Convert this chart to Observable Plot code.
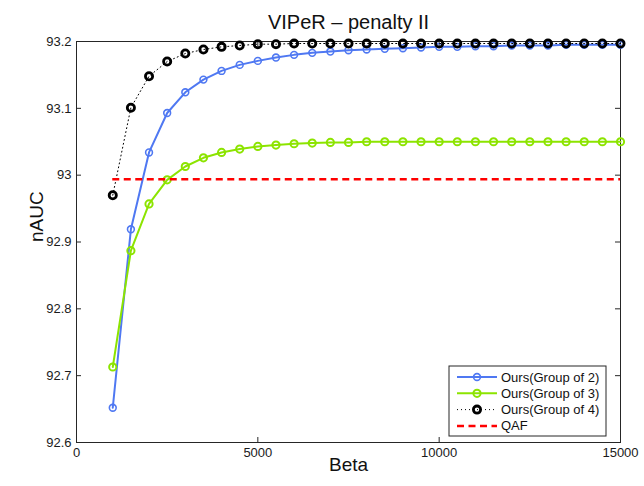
<!DOCTYPE html>
<html>
<head>
<meta charset="utf-8">
<script src="https://cdn.jsdelivr.net/npm/d3@7"></script>
<script src="https://cdn.jsdelivr.net/npm/@observablehq/plot@0.6"></script>
<style>
  body { margin: 0; background: #fff; }
  #chart { width: 644px; height: 486px; }
</style>
</head>
<body>
<div id="chart"></div>
<script>
// Beta values swept in the experiment
const beta = [1000, 1500, 2000, 2500, 3000, 3500, 4000, 4500, 5000, 5500,
  6000, 6500, 7000, 7500, 8000, 8500, 9000, 9500, 10000, 10500,
  11000, 11500, 12000, 12500, 13000, 13500, 14000, 14500, 15000];

// nAUC for each grouping size
const group2 = [92.652, 92.919, 93.034, 93.093, 93.124, 93.143, 93.156, 93.165, 93.171, 93.176,
  93.180, 93.183, 93.185, 93.187, 93.188, 93.189, 93.190, 93.191, 93.192, 93.192,
  93.193, 93.193, 93.194, 93.194, 93.194, 93.195, 93.195, 93.195, 93.195];
const group3 = [92.713, 92.887, 92.957, 92.993, 93.013, 93.026, 93.034, 93.039, 93.043, 93.045,
  93.047, 93.048, 93.049, 93.049, 93.050, 93.050, 93.050, 93.050, 93.050, 93.050,
  93.050, 93.050, 93.050, 93.050, 93.050, 93.050, 93.050, 93.050, 93.050];
const group4 = [92.970, 93.101, 93.148, 93.170, 93.182, 93.188, 93.192, 93.194, 93.196, 93.196,
  93.197, 93.197, 93.197, 93.197, 93.197, 93.197, 93.197, 93.197, 93.197, 93.197,
  93.197, 93.197, 93.197, 93.197, 93.197, 93.197, 93.197, 93.197, 93.197];

// QAF baseline
const qaf = 92.994;

const xTicks = [0, 5000, 10000, 15000];
const yTicks = [92.6, 92.7, 92.8, 92.9, 93.0, 93.1, 93.2];

const seriesNames = ["Ours(Group of 2)", "Ours(Group of 3)", "Ours(Group of 4)", "QAF"];
const titleText = "VIPeR \u2013 penalty II";
const xLabel = "Beta";
const yLabel = "nAUC";

const BLUE = "#4f78f2";
const GREEN = "#8ce400";
const RED = "#ff0000";
const AXIS = "#262626";
const FONT = "'Liberation Sans', Arial, Helvetica, sans-serif";

const W = 644, H = 486;
const M = {top: 41, right: 24, bottom: 44, left: 76};
const plotW = W - M.left - M.right;
const plotH = H - M.top - M.bottom;
const TICK = 5;

const rows = beta.map((b, i) => ({beta: b, g2: group2[i], g3: group3[i], g4: group4[i]}));

const chart = Plot.plot({
  width: W,
  height: H,
  marginTop: M.top,
  marginRight: M.right,
  marginBottom: M.bottom,
  marginLeft: M.left,
  x: {domain: [0, 15000]},
  y: {domain: [92.6, 93.2]},
  style: {fontFamily: FONT, background: "#fff", color: "#1a1a1a"},
  marks: [
    Plot.frame({stroke: AXIS, strokeWidth: 1}),
    // inward ticks on all four sides
    Plot.ruleX(xTicks.slice(1, -1), {insetTop: plotH - TICK, stroke: AXIS}),
    Plot.ruleX(xTicks.slice(1, -1), {insetBottom: plotH - TICK, stroke: AXIS}),
    Plot.ruleY(yTicks.slice(1, -1), {insetRight: plotW - TICK, stroke: AXIS}),
    Plot.ruleY(yTicks.slice(1, -1), {insetLeft: plotW - TICK, stroke: AXIS}),
    Plot.axisX({ticks: xTicks, tickSize: 0, tickPadding: 5, fontSize: 13, label: null,
      tickFormat: d => String(d)}),
    Plot.axisY({ticks: yTicks, tickSize: 0, tickPadding: 5, fontSize: 13, label: null,
      tickFormat: d => String(Math.round(d * 10) / 10)}),

    // group of 2
    Plot.line(rows, {x: "beta", y: "g2", stroke: BLUE, strokeWidth: 2}),
    Plot.dot(rows, {x: "beta", y: "g2", r: 3.4, stroke: BLUE, strokeWidth: 1.6, fill: "none"}),
    // group of 3
    Plot.line(rows, {x: "beta", y: "g3", stroke: GREEN, strokeWidth: 2}),
    Plot.dot(rows, {x: "beta", y: "g3", r: 3.6, stroke: GREEN, strokeWidth: 2, fill: "none"}),
    // group of 4
    Plot.line(rows, {x: "beta", y: "g4", stroke: "#000", strokeWidth: 1, strokeDasharray: "1,3"}),
    Plot.dot(rows, {x: "beta", y: "g4", r: 3.6, stroke: "#000", strokeWidth: 2.8, fill: "none"}),
    // QAF baseline over the same beta range
    Plot.ruleY([qaf], {x1: beta[0], x2: beta[beta.length - 1], stroke: RED, strokeWidth: 2.5, strokeDasharray: "7,4.5"}),

    // titles
    Plot.text([titleText], {frameAnchor: "top", dy: -27, fontSize: 20, fill: "#111"}),
    Plot.text([xLabel], {frameAnchor: "bottom", dy: 28, fontSize: 19, fill: "#111"}),
    Plot.text([yLabel], {frameAnchor: "left", dx: -40, rotate: -90, fontSize: 19, fill: "#111"})
  ]
});

// legend box in the lower-right corner of the axes
const svg = d3.select(chart);
const lg = svg.append("g")
  .attr("font-family", FONT).attr("font-size", 13).attr("text-anchor", "start");
const box = {x: 449, y: 366, w: 157, h: 70};
lg.append("rect")
  .attr("x", box.x).attr("y", box.y).attr("width", box.w).attr("height", box.h)
  .attr("fill", "#fff").attr("stroke", AXIS).attr("stroke-width", 1);

const legendStyles = [
  {stroke: BLUE, width: 2, dash: null, marker: {stroke: BLUE, w: 1.6, r: 3.4}},
  {stroke: GREEN, width: 2, dash: null, marker: {stroke: GREEN, w: 2, r: 3.6}},
  {stroke: "#000", width: 1, dash: "1,3", marker: {stroke: "#000", w: 2.8, r: 3.6}},
  {stroke: RED, width: 2.5, dash: "7,4.5", marker: null}
];
const rowY = i => box.y + 11 + i * 16.3;
legendStyles.forEach((s, i) => {
  const y = rowY(i);
  lg.append("line")
    .attr("x1", 457).attr("x2", 497).attr("y1", y).attr("y2", y)
    .attr("stroke", s.stroke).attr("stroke-width", s.width)
    .attr("stroke-dasharray", s.dash);
  if (s.marker) {
    lg.append("circle").attr("cx", 477).attr("cy", y).attr("r", s.marker.r)
      .attr("fill", "none").attr("stroke", s.marker.stroke).attr("stroke-width", s.marker.w);
  }
  lg.append("text").attr("x", 501).attr("y", y).attr("dy", "0.35em")
    .attr("text-anchor", "start").attr("fill", "#111").text(seriesNames[i]);
});

document.getElementById("chart").appendChild(chart);
</script>
</body>
</html>
